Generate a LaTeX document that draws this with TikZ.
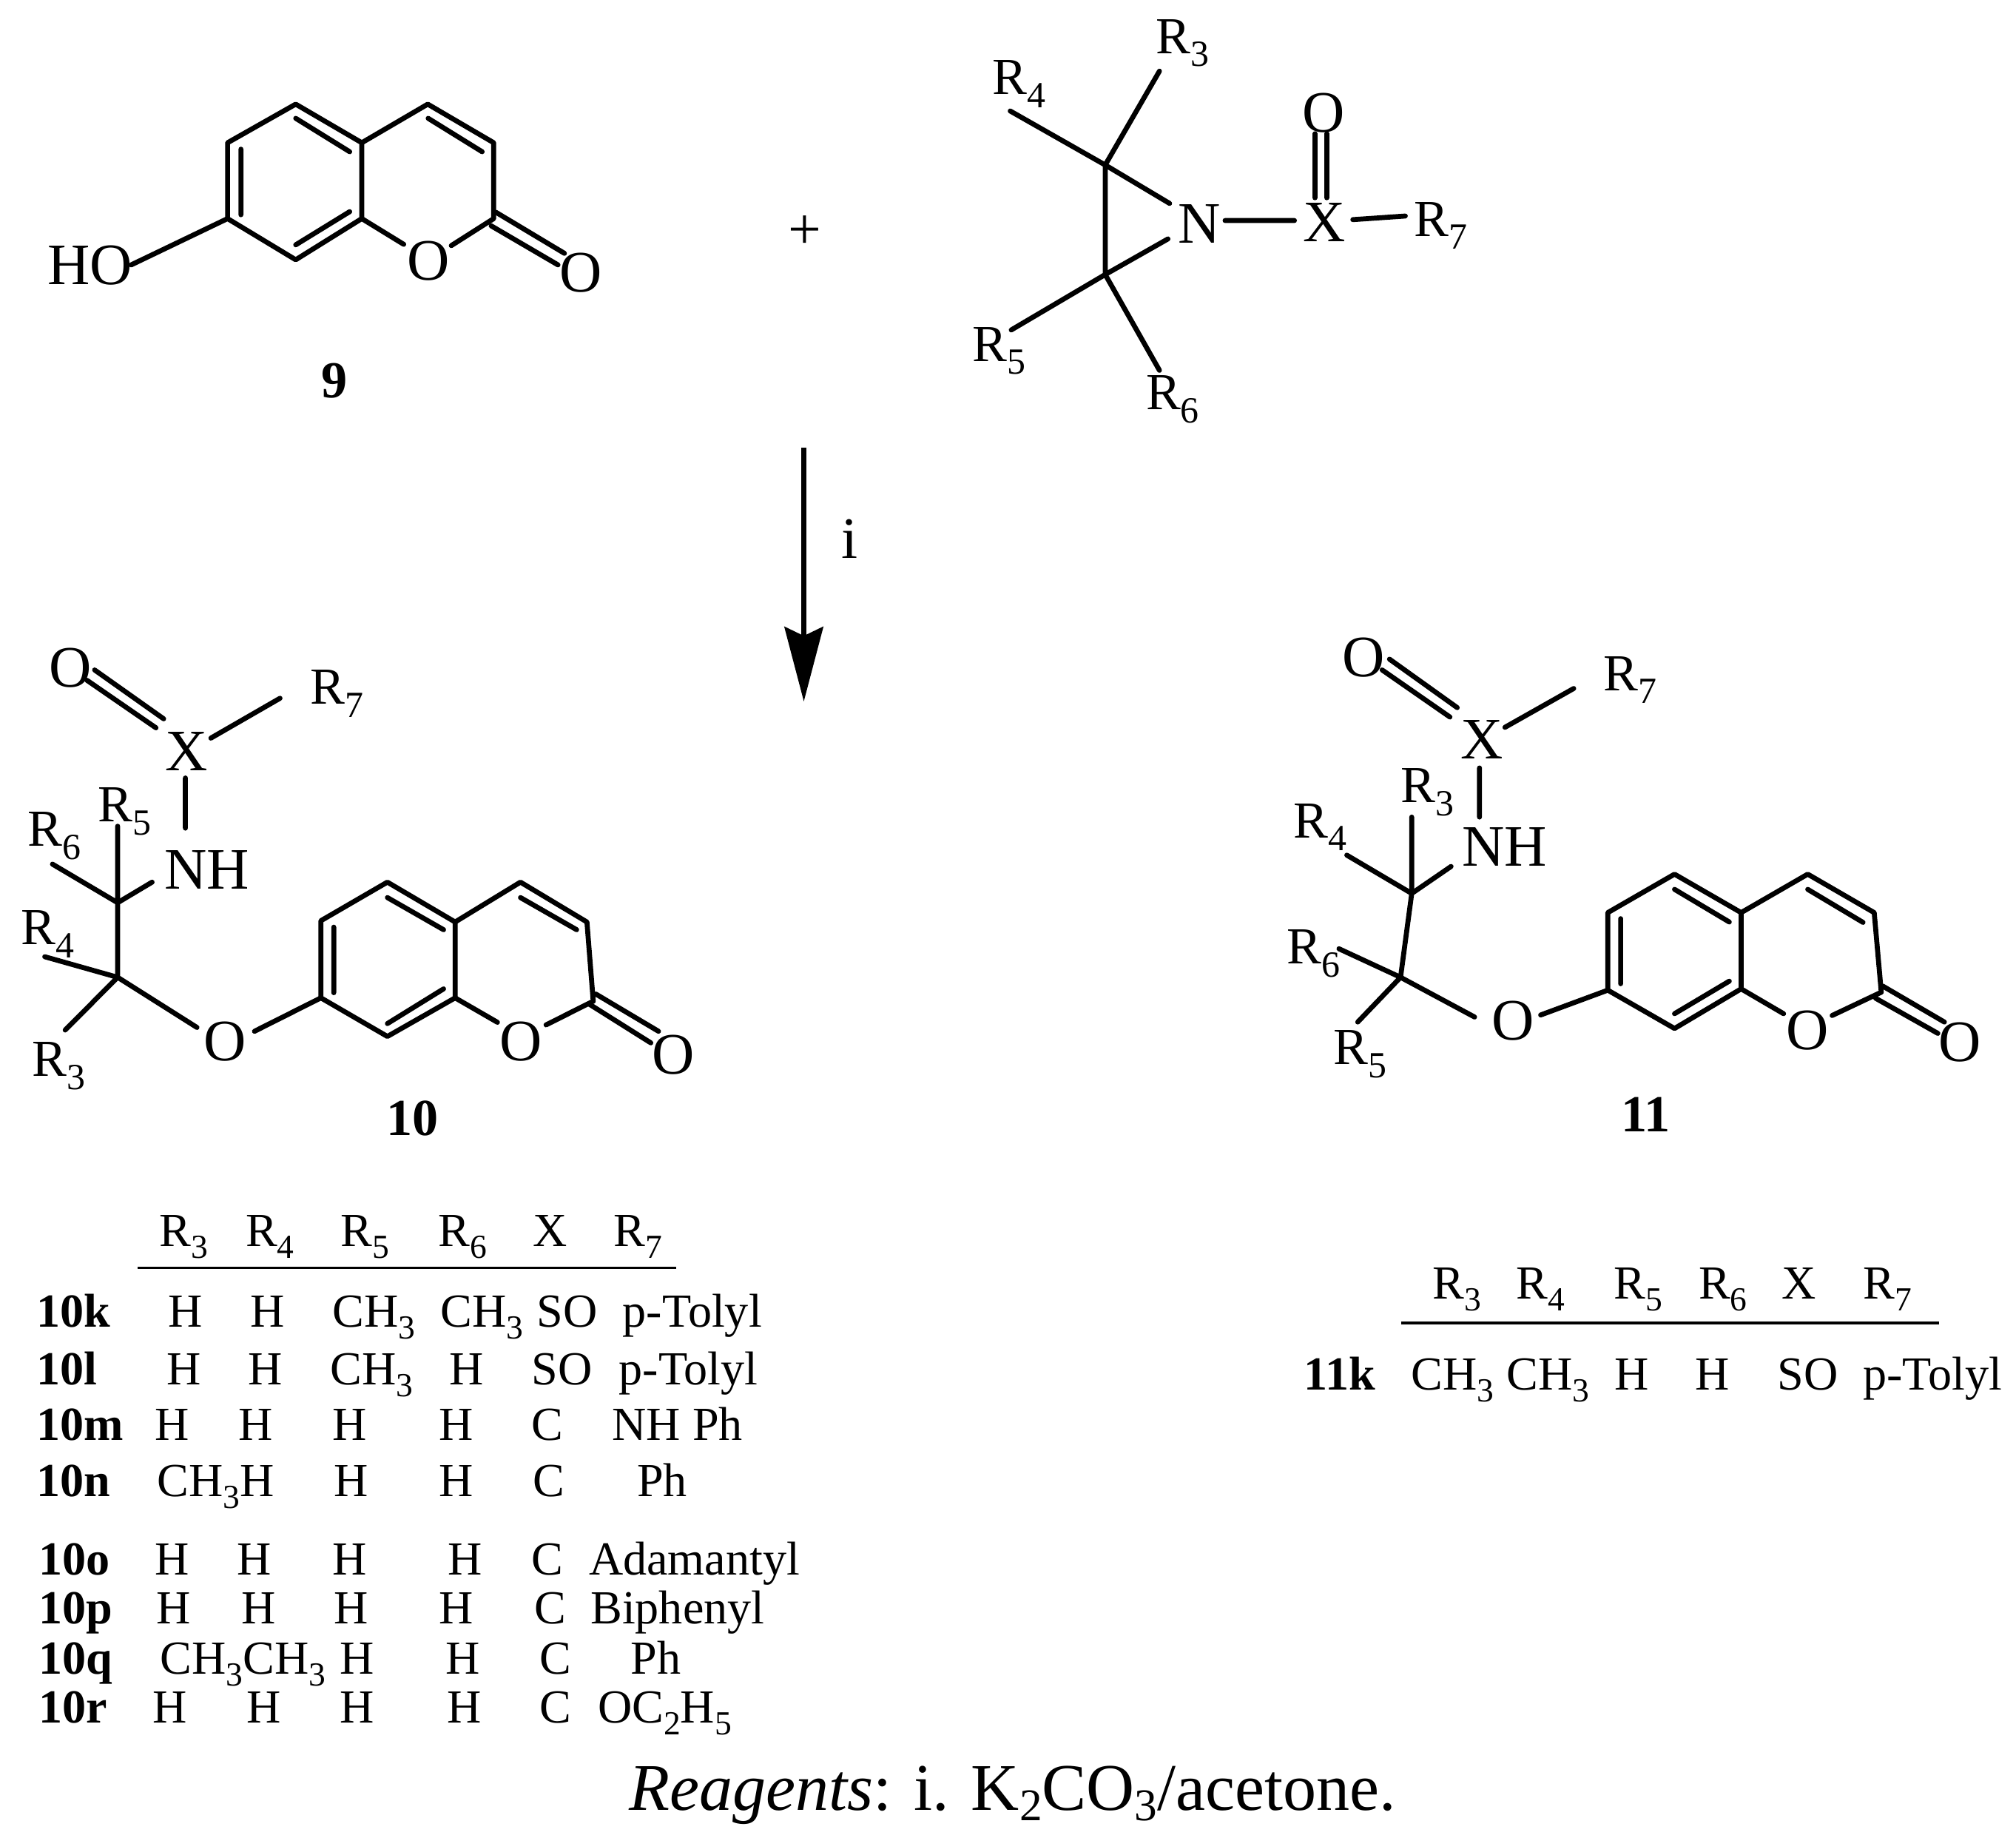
\documentclass[tikz,border=0pt]{standalone}
\usepackage{graphicx}
\usepackage{fontspec}
\setmainfont{Liberation Serif}
\usetikzlibrary{arrows.meta}
\newcount\cellno
\newcommand\Sb[1]{\raisebox{-.25em}{\scalebox{.71}{#1}}}
\newcommand\Sr[1]{\raisebox{-.15em}{\scalebox{.68}{#1}}}
\newcommand\Rs[2]{#1\Sb{#2}}
\newcommand\cell[3]{\global\advance\cellno by 1 \node[tabtext] (cell\the\cellno) at (#1,#2+12) {#3};}
\newcommand\lab[3]{\global\advance\cellno by 1 \node[tabtext,anchor=base west,font=\fontsize{21}{24}\selectfont\bfseries] (cell\the\cellno) at (#1,#2+12) {#3};}
\tikzset{
  bond/.style={line width=2.2pt,line cap=round,line join=round,black},
  atom/.style={font=\fontsize{26}{30}\selectfont,inner sep=0pt,anchor=base},
  rlab/.style={font=\fontsize{23}{27}\selectfont,inner sep=0pt,anchor=base},
  tabtext/.style={font=\fontsize{21}{24}\selectfont,anchor=base,inner sep=0pt},
  cmpd/.style={font=\fontsize{23}{27}\selectfont\bfseries,inner sep=0pt},
}
\begin{document}
\begin{tikzpicture}[x=0.02cm,y=-0.02cm]
\useasboundingbox (0,0) rectangle (1568,1427);
% ---------- compound 9
\coordinate (a9) at (177,111); \coordinate (b9) at (230,81); \coordinate (c9) at (281.4,111);
\coordinate (d9) at (281.4,170); \coordinate (e9) at (230,202); \coordinate (f9) at (177,170);
\coordinate (g9) at (332.7,81); \coordinate (h9) at (384,111); \coordinate (i9) at (384,170);
\coordinate (oH9) at (102,206); \coordinate (oL9) at (314,190); \coordinate (oR9) at (351,191);
\coordinate (x1s9) at (385.6,165); \coordinate (x1e9) at (439,197);
\coordinate (x2s9) at (382,175.6); \coordinate (x2e9) at (434,206);
\coordinate (in1s9) at (187.4,116); \coordinate (in1e9) at (187.4,167);
\coordinate (in2s9) at (230,92); \coordinate (in2e9) at (272,118);
\coordinate (in3s9) at (272,164.6); \coordinate (in3e9) at (230,190.4);
\coordinate (in4s9) at (333,92); \coordinate (in4e9) at (375,118);
\node[atom] (HO9) at (70,221) {HO};
\node[atom] (O9) at (333,218) {O};
\node[atom] (CO9) at (452,227) {O};
\draw[bond] (a9)--(b9)--(c9)--(d9)--(e9)--(f9)--cycle;
\draw[bond] (c9)--(g9)--(h9)--(i9)--(oR9) (oL9)--(d9) (f9)--(oH9);
\draw[bond] (x1s9)--(x1e9) (x2s9)--(x2e9);
\draw[bond] (in1s9)--(in1e9) (in2s9)--(in2e9) (in3s9)--(in3e9) (in4s9)--(in4e9);
\node[cmpd] (n9) at (260,296) {9};
\node[font=\fontsize{26}{30}\selectfont] (plus) at (626,181) {+};
% ---------- aziridine
\coordinate (A1) at (859.6,128.3); \coordinate (A2) at (859.6,213.5);
\coordinate (eR3a) at (901.8,55.3); \coordinate (eR4a) at (785.7,86.3);
\coordinate (eN1) at (909.7,158.2); \coordinate (eN2) at (908.4,185.8);
\coordinate (eR5a) at (786.5,256.6); \coordinate (eR6a) at (901.8,288);
\coordinate (eNX1) at (952.8,171.5); \coordinate (eNX2) at (1006.8,171.5);
\coordinate (eXR1) at (1052.2,170.8); \coordinate (eXR2) at (1093,168);
\coordinate (dO1s) at (1022.7,153.8); \coordinate (dO1e) at (1022.7,104);
\coordinate (dO2s) at (1031.9,153.8); \coordinate (dO2e) at (1031.9,104);
\node[atom] (N) at (933,189) {N};
\node[atom] (X) at (1030,187.6) {X};
\node[atom] (Ot) at (1029.5,102.5) {O};
\node[rlab] (R7a) at (1120.5,183.6) {\Rs{R}{7}};
\node[rlab] (R3a) at (920,41.5) {\Rs{R}{3}};
\node[rlab] (R4a) at (792.5,73.5) {\Rs{R}{4}};
\node[rlab] (R5a) at (777,281) {\Rs{R}{5}};
\node[rlab] (R6a) at (912,318.6) {\Rs{R}{6}};
\draw[bond] (A1)--(A2) (A1)--(eN1) (A2)--(eN2) (eNX1)--(eNX2) (eXR1)--(eXR2);
\draw[bond] (A1)--(eR3a) (A1)--(eR4a) (A2)--(eR5a) (A2)--(eR6a);
\draw[bond] (dO1s)--(dO1e) (dO2s)--(dO2e);
% ---------- arrow
\coordinate (arS) at (625.2,348); \coordinate (arE) at (625.2,545.5);
\draw[line width=2.3pt,-{Stealth[length=1.16cm,width=0.6cm,inset=0.14cm]}] (arS) -- (arE);
\node[atom] (iL) at (661,434) {i};
% ---------- compound 10
\coordinate (a10) at (249.6,716); \coordinate (b10) at (301.3,686); \coordinate (c10) at (354,717);
\coordinate (d10) at (354,776); \coordinate (e10) at (301.3,806); \coordinate (f10) at (249.6,776);
\coordinate (g10) at (404.8,686); \coordinate (h10) at (456.5,717); \coordinate (i10) at (461.4,778.6);
\coordinate (oL10) at (386.9,795); \coordinate (oR10) at (424.7,797);
\coordinate (x1s10) at (463.4,773); \coordinate (x1e10) at (512.2,802);
\coordinate (x2s10) at (458.5,781); \coordinate (x2e10) at (506.2,811);
\coordinate (in1s10) at (259.6,721); \coordinate (in1e10) at (259.6,772);
\coordinate (in2s10) at (301.3,698); \coordinate (in2e10) at (345,723);
\coordinate (in3s10) at (345,769); \coordinate (in3e10) at (301.3,796);
\coordinate (in4s10) at (404.8,698); \coordinate (in4e10) at (448.5,723);
\coordinate (C110) at (91.5,702); \coordinate (C210) at (91.5,760);
\coordinate (d1s10) at (73.6,521); \coordinate (d1e10) at (127.3,559);
\coordinate (d2s10) at (67.6,529); \coordinate (d2e10) at (121.3,566);
\coordinate (xr1) at (164,574); \coordinate (xr2) at (217.8,543);
\coordinate (xn1) at (144.2,605); \coordinate (xn2) at (144.2,644);
\coordinate (eR510) at (91.5,642.5); \coordinate (eR610) at (40.8,672);
\coordinate (eNH10) at (118.3,686); \coordinate (eR410) at (34.8,744);
\coordinate (eR310) at (50.7,801); \coordinate (eO10) at (153.2,799); \coordinate (eOf10) at (197.9,802);
\node[atom] (Or10) at (405,825) {O};
\node[atom] (CO10) at (524,835) {O};
\node[atom] (OL10) at (175,825) {O};
\node[atom] (X10) at (145,599) {X};
\node[atom] (Ox10) at (55,534) {O};
\node[atom] (NH10) at (161,691.5) {NH};
\node[rlab] (R710) at (262,547.5) {\Rs{R}{7}};
\node[rlab] (R510) at (97,639) {\Rs{R}{5}};
\node[rlab] (R610) at (42.4,658) {\Rs{R}{6}};
\node[rlab] (R410) at (37.3,734.6) {\Rs{R}{4}};
\node[rlab] (R310) at (45.8,837) {\Rs{R}{3}};
\draw[bond] (a10)--(b10)--(c10)--(d10)--(e10)--(f10)--cycle;
\draw[bond] (c10)--(g10)--(h10)--(i10)--(oR10) (oL10)--(d10);
\draw[bond] (f10)--(eOf10) (eO10)--(C210)--(C110)--(eNH10) (xn1)--(xn2) (xr1)--(xr2);
\draw[bond] (C110)--(eR510) (C110)--(eR610) (C210)--(eR410) (C210)--(eR310);
\draw[bond] (d1s10)--(d1e10) (d2s10)--(d2e10);
\draw[bond] (x1s10)--(x1e10) (x2s10)--(x2e10);
\draw[bond] (in1s10)--(in1e10) (in2s10)--(in2e10) (in3s10)--(in3e10) (in4s10)--(in4e10);
\node[cmpd] (n10) at (321,870) {10};
% ---------- compound 11
\coordinate (a11) at (1250.5,709.7); \coordinate (b11) at (1302.4,679.8); \coordinate (c11) at (1354.2,709.7);
\coordinate (d11) at (1354.2,769); \coordinate (e11) at (1302.4,799.8); \coordinate (f11) at (1250.5,770);
\coordinate (g11) at (1406,679.8); \coordinate (h11) at (1457.7,709.7); \coordinate (i11) at (1463.2,771.6);
\coordinate (oL11) at (1387.2,788.3); \coordinate (oR11) at (1425,789.7);
\coordinate (x1s11) at (1464.3,766.8); \coordinate (x1e11) at (1512.3,794.8);
\coordinate (x2s11) at (1458.8,776.3); \coordinate (x2e11) at (1507.2,803.6);
\coordinate (in1s11) at (1260.5,714.4); \coordinate (in1e11) at (1260.5,765);
\coordinate (in2s11) at (1302.4,691.6); \coordinate (in2e11) at (1345,717);
\coordinate (in3s11) at (1345,763); \coordinate (in3e11) at (1302.4,788.3);
\coordinate (in4s11) at (1406,691.6); \coordinate (in4e11) at (1449,717.3);
\coordinate (C111) at (1098,694.8); \coordinate (C211) at (1089.3,760);
\coordinate (d1s11) at (1080.7,512.6); \coordinate (d1e11) at (1133.4,550.3);
\coordinate (d2s11) at (1075,521); \coordinate (d2e11) at (1127.7,557.6);
\coordinate (xr3) at (1170.5,565.6); \coordinate (xr4) at (1224,535.4);
\coordinate (xn3) at (1150.7,597.2); \coordinate (xn4) at (1150.7,635.4);
\coordinate (eR311) at (1098,635.4); \coordinate (eR411) at (1047.5,665);
\coordinate (eNH11) at (1128.6,673.8); \coordinate (eR611) at (1041.4,737.8);
\coordinate (eR511) at (1056,794.8); \coordinate (eO11) at (1146.9,790.9); \coordinate (eOf11) at (1198.3,789.3);
\node[atom] (Or11) at (1406,816) {O};
\node[atom] (CO11) at (1524.5,825.5) {O};
\node[atom] (OL11) at (1176.6,808.5) {O};
\node[atom] (X11) at (1152.5,590) {X};
\node[atom] (Ox11) at (1060.6,526) {O};
\node[atom] (NH11) at (1170,673.5) {NH};
\node[rlab] (R711) at (1268,537) {\Rs{R}{7}};
\node[rlab] (R311) at (1110,624) {\Rs{R}{3}};
\node[rlab] (R411) at (1026.8,651.4) {\Rs{R}{4}};
\node[rlab] (R611) at (1021.4,749.7) {\Rs{R}{6}};
\node[rlab] (R511) at (1058,828) {\Rs{R}{5}};
\draw[bond] (a11)--(b11)--(c11)--(d11)--(e11)--(f11)--cycle;
\draw[bond] (c11)--(g11)--(h11)--(i11)--(oR11) (oL11)--(d11);
\draw[bond] (f11)--(eOf11) (eO11)--(C211)--(C111)--(eNH11) (xn3)--(xn4) (xr3)--(xr4);
\draw[bond] (C111)--(eR311) (C111)--(eR411) (C211)--(eR611) (C211)--(eR511);
\draw[bond] (d1s11)--(d1e11) (d2s11)--(d2e11);
\draw[bond] (x1s11)--(x1e11) (x2s11)--(x2e11);
\draw[bond] (in1s11)--(in1e11) (in2s11)--(in2e11) (in3s11)--(in3e11) (in4s11)--(in4e11);
\node[cmpd] (n11) at (1280,867) {11};
% ---------- table 10
\cell{143}{957}{\Rs{R}{3}}\cell{210}{957}{\Rs{R}{4}}\cell{284}{957}{\Rs{R}{5}}\cell{360}{957}{\Rs{R}{6}}\cell{428}{957}{X}\cell{496}{957}{\Rs{R}{7}}
\coordinate (ruleAl) at (107,986); \coordinate (ruleAr) at (526,986);
\draw[line width=1.2pt] (ruleAl) -- (ruleAr);
\lab{28}{1020}{10k}\cell{144}{1020}{H}\cell{208}{1020}{H}\cell{291}{1020}{\Rs{CH}{3}}\cell{375}{1020}{\Rs{CH}{3}}\cell{441}{1020}{SO}\cell{538.5}{1020}{p-Tolyl}
\lab{28}{1065}{10l}\cell{143}{1065}{H}\cell{206.5}{1065}{H}\cell{289}{1065}{\Rs{CH}{3}}\cell{363}{1065}{H}\cell{437}{1065}{SO}\cell{535.5}{1065}{p-Tolyl}
\lab{28}{1108}{10m}\cell{134}{1108}{H}\cell{199}{1108}{H}\cell{272}{1108}{H}\cell{355}{1108}{H}\cell{426}{1108}{C}\cell{527}{1108}{NH Ph}
\lab{28}{1152}{10n}\cell{168}{1152}{\Rs{CH}{3}H}\cell{273}{1152}{H}\cell{355}{1152}{H}\cell{427}{1152}{C}\cell{515}{1152}{Ph}
\lab{30}{1213}{10o}\cell{134}{1213}{H}\cell{198}{1213}{H}\cell{272}{1213}{H}\cell{362}{1213}{H}\cell{426}{1213}{C}\cell{540}{1213}{Adamantyl}
\lab{30}{1251}{10p}\cell{135}{1251}{H}\cell{201}{1251}{H}\cell{273}{1251}{H}\cell{355}{1251}{H}\cell{428}{1251}{C}\cell{527}{1251}{Biphenyl}
\lab{30}{1290}{10q}\cell{189}{1290}{\Rs{CH}{3}\Rs{CH}{3}}\cell{278}{1290}{H}\cell{360}{1290}{H}\cell{432}{1290}{C}\cell{510}{1290}{Ph}
\lab{30}{1328}{10r}\cell{132}{1328}{H}\cell{205}{1328}{H}\cell{278}{1328}{H}\cell{361}{1328}{H}\cell{432}{1328}{C}\cell{517}{1328}{\Rs{OC}{2}\Rs{H}{5}}
% ---------- table 11
\cell{1133}{998}{\Rs{R}{3}}\cell{1198}{998}{\Rs{R}{4}}\cell{1274}{998}{\Rs{R}{5}}\cell{1340}{998}{\Rs{R}{6}}\cell{1399}{998}{X}\cell{1468}{998}{\Rs{R}{7}}
\coordinate (ruleBl) at (1090,1029); \coordinate (ruleBr) at (1508,1029);
\draw[line width=1.2pt] (ruleBl) -- (ruleBr);
\lab{1014}{1069}{11k}\cell{1130}{1069}{\Rs{CH}{3}}\cell{1204}{1069}{\Rs{CH}{3}}\cell{1269}{1069}{H}\cell{1332}{1069}{H}\cell{1406}{1069}{SO}\cell{1503}{1069}{p-Tolyl}
\node[font=\fontsize{29.5}{36}\selectfont,inner sep=0pt,anchor=base] (reag) at (787.5,1408) {\textit{Reagents}: i. K\Sr{2}CO\Sr{3}/acetone.};
\end{tikzpicture}
\end{document}
